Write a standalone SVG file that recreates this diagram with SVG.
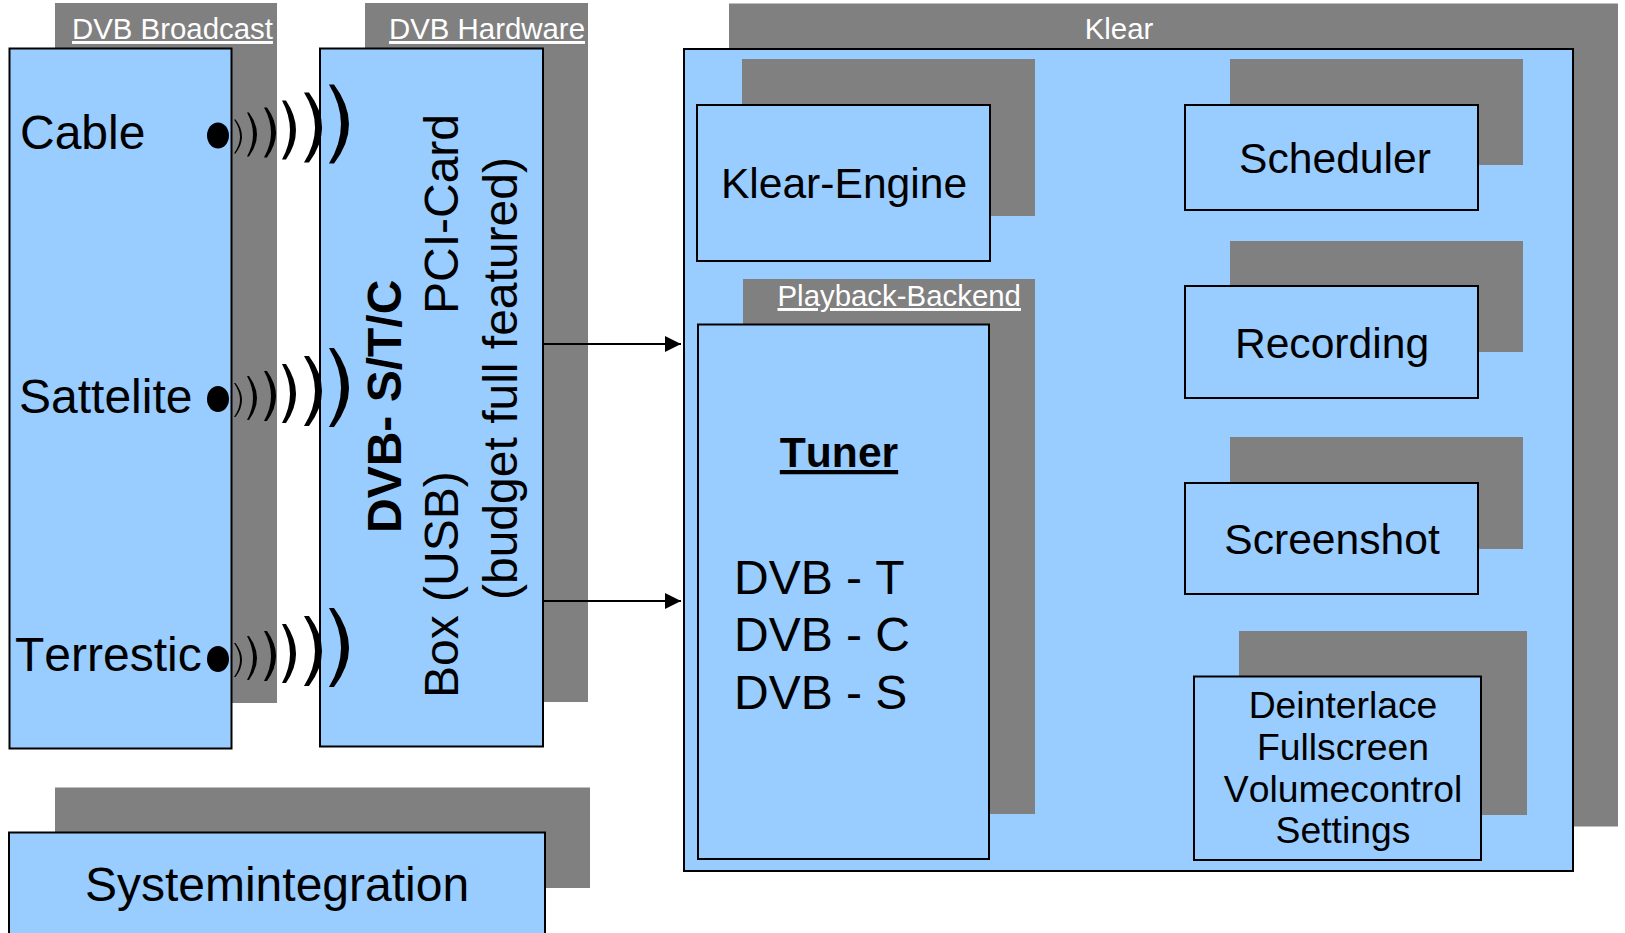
<svg xmlns="http://www.w3.org/2000/svg" width="1625" height="933" viewBox="0 0 1625 933">
<style>
text{font-family:"Liberation Sans",Arial,sans-serif;fill:#000;font-kerning:none}
.s{fill:#808080}
.b{fill:#99ccff;stroke:#000;stroke-width:2}
.t{font-size:29.4px;fill:#fff;text-decoration:underline}
.l{font-size:48px}
.m{font-size:42.6px;text-anchor:middle}
.n{font-size:37.3px;text-anchor:middle}
.w{fill:#000}
.c{fill:none;stroke:#000;stroke-width:2}
</style>
<defs>
<marker id="a" markerUnits="userSpaceOnUse" markerWidth="18" markerHeight="16" refX="16" refY="8" orient="auto"><path d="M0 0L16 8L0 16z" fill="#000"/></marker>
<g id="waves">
<ellipse cx="0" cy="0" rx="11" ry="13" fill="#000"/>
<path class="w" d="M17.500-16Q30.500 1 17.500 18L16 18Q28 1 16-16z"/>
<path class="w" d="M31-23Q47-1 31 21L29 21Q41-1 29-23z"/>
<path class="w" d="M49-28Q67-3 49 22L46 22Q60-3 46-28z"/>
<path class="w" d="M68-35Q88-5 68 24L64 24Q80-5 64-35z"/>
<path class="w" d="M91-43Q117-8 91 27L86 27Q108-8 86-43z"/>
<path class="w" d="M116-51Q146-11 116 28L111 28Q135-11 111-51z"/>
</g>
</defs>
<g id="broadcast">
<rect class="s" x="55" y="3" width="222" height="700"/>
<text class="t" x="72" y="39">DVB Broadcast</text>
<rect class="b" x="9.5" y="48.5" width="222" height="700"/>
<text class="l" x="20" y="149">Cable</text>
<text class="l" x="19" y="413">Sattelite</text>
<text class="l" x="15" y="671">Terrestic</text>
</g>
<g id="hardware">
<rect class="s" x="365" y="3" width="223" height="699"/>
<text class="t" x="389" y="39">DVB Hardware</text>
<rect class="b" x="320" y="48.5" width="223" height="698"/>
<text class="l" font-weight="bold" transform="translate(400.5,533) rotate(-90)">DVB- S/T/C</text>
<text class="l" transform="translate(458,314) rotate(-90)">PCI-Card</text>
<text class="l" transform="translate(458,698) rotate(-90)">Box (USB)</text>
<text class="l" transform="translate(517,600) rotate(-90)">(budget full featured)</text>
</g>
<g id="wave-cable"><use href="#waves" x="218" y="135.500"/></g>
<g id="wave-sattelite"><use href="#waves" x="218" y="399"/></g>
<g id="wave-terrestic"><use href="#waves" x="218" y="659"/></g>
<g id="klear">
<rect class="s" x="729" y="3.500" width="889" height="823"/>
<text x="1119" y="39" font-size="29.4" text-anchor="middle" style="fill:#fff">Klear</text>
<rect class="b" x="684" y="49" width="889" height="822"/>
</g>
<g id="klear-engine">
<rect class="s" x="742" y="59" width="293" height="157"/>
<rect class="b" x="697" y="105" width="293" height="156"/>
<text class="m" x="844" y="198">Klear-Engine</text>
</g>
<g id="playback">
<rect class="s" x="743" y="279" width="292" height="535"/>
<text class="t" x="777.500" y="306">Playback-Backend</text>
<rect class="b" x="698" y="324.500" width="291" height="534.500"/>
<text x="839" y="467" font-size="42.6" font-weight="bold" text-anchor="middle" text-decoration="underline">Tuner</text>
<text class="l" x="734" y="594">DVB - T</text>
<text class="l" x="734" y="651">DVB - C</text>
<text class="l" x="734" y="708.500">DVB - S</text>
</g>
<g id="scheduler">
<rect class="s" x="1230" y="59" width="293" height="106"/>
<rect class="b" x="1185" y="105" width="293" height="105"/>
<text class="m" x="1335" y="173">Scheduler</text>
</g>
<g id="recording">
<rect class="s" x="1230" y="241" width="293" height="111"/>
<rect class="b" x="1185" y="286" width="293" height="112"/>
<text class="m" x="1332" y="358">Recording</text>
</g>
<g id="screenshot">
<rect class="s" x="1230" y="437" width="293" height="112"/>
<rect class="b" x="1185" y="483" width="293" height="111"/>
<text class="m" x="1332" y="554">Screenshot</text>
</g>
<g id="settings">
<rect class="s" x="1239" y="631" width="288" height="184"/>
<rect class="b" x="1194" y="676.500" width="287" height="183.500"/>
<text class="n" x="1343" y="718">Deinterlace</text>
<text class="n" x="1343" y="760">Fullscreen</text>
<text class="n" x="1343" y="802">Volumecontrol</text>
<text class="n" x="1343" y="843">Settings</text>
</g>
<g id="systemintegration">
<rect class="s" x="55" y="787.500" width="535" height="100.500"/>
<rect class="b" x="9" y="832.500" width="536" height="110"/>
<text x="277" y="901" font-size="48" text-anchor="middle">Systemintegration</text>
</g>
<g id="connectors">
<path class="c" d="M543 344H681" marker-end="url(#a)"/>
<path class="c" d="M543 601H681" marker-end="url(#a)"/>
</g>
</svg>
